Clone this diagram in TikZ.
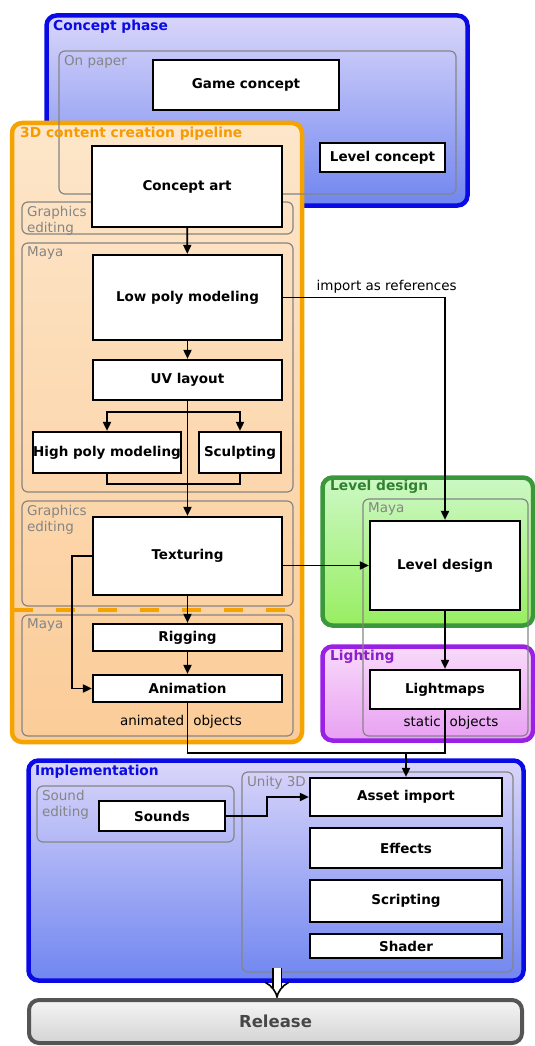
\documentclass[tikz,border=0pt]{standalone}
\usepackage{fontspec}
\setmainfont{DejaVu Sans}
\usetikzlibrary{arrows.meta,positioning}
\definecolor{phaseblue}{HTML}{0A0AE6}
\definecolor{bluetop}{HTML}{DAD6FA}
\definecolor{bluebot}{HTML}{7086F0}
\definecolor{pipeorange}{HTML}{F5A300}
\definecolor{orangetop}{HTML}{FDE6CA}
\definecolor{orangebot}{HTML}{FBCC98}
\definecolor{levelgreen}{HTML}{3A983A}
\definecolor{greentop}{HTML}{CCF8C4}
\definecolor{greenbot}{HTML}{98EE62}
\definecolor{lightpurple}{HTML}{9A20E6}
\definecolor{purpletop}{HTML}{F8DAFA}
\definecolor{purplebot}{HTML}{E8A0F2}
\definecolor{toolgray}{HTML}{858585}
\definecolor{releasegray}{HTML}{555555}
\begin{document}
\begin{tikzpicture}[x=1pt,y=-1pt,
    phase/.style={rounded corners=10pt, line width=4.5pt, inner sep=0pt},
    tool/.style={draw=toolgray, rounded corners=6pt, line width=1.2pt, inner sep=0pt},
    task/.style={draw, fill=white, line width=2.2pt, inner sep=0pt, font=\bfseries\fontsize{13.5}{15}\selectfont},
    toollabel/.style={anchor=north west, inner sep=0pt, align=left, text=toolgray, font=\fontsize{13.5}{16}\selectfont},
    title/.style={anchor=north west, inner sep=0pt, font=\bfseries\fontsize{13.8}{16}\selectfont},
    note/.style={inner sep=0pt, font=\fontsize{13.5}{16}\selectfont},
    link/.style={line width=1.8pt},
    flow/.style={link, -{Triangle[length=9pt,width=8pt]}}]
    \useasboundingbox (0,0) rectangle (535,1046);

    % phases
    \node[phase, draw=phaseblue, top color=bluetop, bottom color=bluebot, minimum width=421pt, minimum height=190pt] (concept) at (257,110.5) {};
    \node[phase, draw=pipeorange, top color=orangetop, bottom color=orangebot, minimum width=290pt, minimum height=619pt] (pipeline) at (157,432.5) {};
    \node[phase, draw=levelgreen, top color=greentop, bottom color=greenbot, minimum width=210.5pt, minimum height=148pt] (levelphase) at (427.75,551.5) {};
    \node[phase, draw=lightpurple, top color=purpletop, bottom color=purplebot, minimum width=210.5pt, minimum height=94pt] (lighting) at (427.75,693.5) {};
    \node[phase, draw=phaseblue, top color=bluetop, bottom color=bluebot, minimum width=495pt, minimum height=220pt] (impl) at (276,870.5) {};
    \node[phase, draw=releasegray, line width=4pt, top color=black!4, bottom color=black!17, minimum width=493pt, minimum height=43pt,
        text=black!72, font=\bfseries\fontsize{16.5}{18}\selectfont] (release) at (275.5,1021.5) {Release};

    % tools
    \foreach \n/\x/\y/\w/\h/\txt in {onpaper/257.5/122.5/397/143/{On paper},
            gfxa/157.5/218/271/32/{Graphics\\editing},
            mayaa/157.5/367.5/271/249/{Maya},
            gfxb/157.5/553.5/271/105/{Graphics\\editing},
            mayab/157.5/675.5/271/121/{Maya},
            mayac/445.5/617.5/165/237/{Maya},
            sound/135.5/814/197/56/{Sound\\editing},
            unity/377.5/872/271/200/{Unity 3D}} {
        \node[tool, minimum width=\w pt, minimum height=\h pt] (\n) at (\x,\y) {};
        \node[toollabel] at ([xshift=5.5pt,yshift=-4.5pt]\n.north west) {\txt};
    }

    % titles
    \node[title, text=phaseblue] at (53,20) {Concept phase};
    \node[title, text=pipeorange!95!red] at (20,127) {3D content creation pipeline};
    \node[title, text=levelgreen!85!black] at (330,480) {Level design};
    \node[title, text=lightpurple!90!black] at (330,650) {Lighting};
    \node[title, text=phaseblue] at (35,765) {Implementation};
    \node[note] at (181,722) {animated\hspace{9pt}objects};
    \node[note] at (451,723) {static\hspace{9pt}objects};

    % dashed border between texturing and rigging
    \draw[pipeorange, line width=3.5pt, dash pattern=on 19pt off 23pt] (14,610) -- (292,610);

    % tasks
    \node[task, minimum width=186pt, minimum height=50pt] (game) at (246,85) {Game concept};
    \node[task, minimum width=125pt, minimum height=29pt] (levelc) at (382.5,157.5) {Level concept};
    \node[task, minimum width=190pt, minimum height=81pt] (art) at (187,186.5) {Concept art};
    \node[task, minimum width=189pt, minimum height=85pt] (lowpoly) at (187.5,297.5) {Low poly modeling};
    \node[task, minimum width=189pt, minimum height=40pt] (uv) at (187.5,380) {UV layout};
    \node[task, minimum width=148pt, minimum height=41pt] (highpoly) at (107,452.5) {High poly modeling};
    \node[task, minimum width=82pt, minimum height=41pt] (sculpt) at (240,452.5) {Sculpting};
    \node[task, minimum width=189pt, minimum height=78pt] (tex) at (187.5,556) {Texturing};
    \node[task, minimum width=189pt, minimum height=27pt] (rig) at (187.5,637.5) {Rigging};
    \node[task, minimum width=189pt, minimum height=27pt] (anim) at (187.5,688.5) {Animation};
    \node[task, minimum width=150pt, minimum height=89pt] (leveld) at (445,565.5) {Level design};
    \node[task, minimum width=150pt, minimum height=39pt] (light) at (445,689.5) {Lightmaps};
    \node[task, minimum width=126pt, minimum height=30pt] (sounds) at (162,816) {Sounds};
    \node[task, minimum width=192pt, minimum height=38pt] (asset) at (406,797) {Asset import};
    \foreach \n/\y/\h/\txt in {effects/848/40/Effects, script/901/42/Scripting, shader/946/24/Shader}
        \node[task, minimum width=192pt, minimum height=\h pt] (\n) at (406,\y) {\txt};

    % connectors
    \draw[flow] (art) -- (lowpoly);
    \draw[flow] (lowpoly) -- (uv);
    \draw[link] (uv.south) -- ++(0,11) coordinate (split);
    \draw[flow] (split) -| (highpoly.north);
    \draw[flow] (split) -| (sculpt.north);
    \draw[link] (highpoly.south) -- ++(0,10) -| (sculpt.south);
    \draw[flow] (uv.south) -- (tex.north);
    \draw[flow] (tex) -- (rig);
    \draw[flow] (rig) -- (anim);
    \draw[flow] (tex.west) -- ++(-20,0) |- (anim.west);
    \draw[flow] (lowpoly.east) -| (leveld.north) node[pos=0.32, above=3pt, note] {import as references};
    \draw[flow] (tex.east |- leveld.west) -- (leveld.west);
    \draw[flow] (leveld) -- (light);
    \coordinate (merge) at (406,753);
    \draw[link] (anim.south) |- (merge) -| (light.south);
    \draw[flow] (merge) -- (asset.north);
    \draw[flow] (sounds.east) -- ++(41,0) |- (asset.west);
    \coordinate (out) at (277,968);
    \draw[line width=1.6pt, double, double distance=7pt, -{Implies}] (out) -- (out |- release.north);
\end{tikzpicture}
\end{document}
